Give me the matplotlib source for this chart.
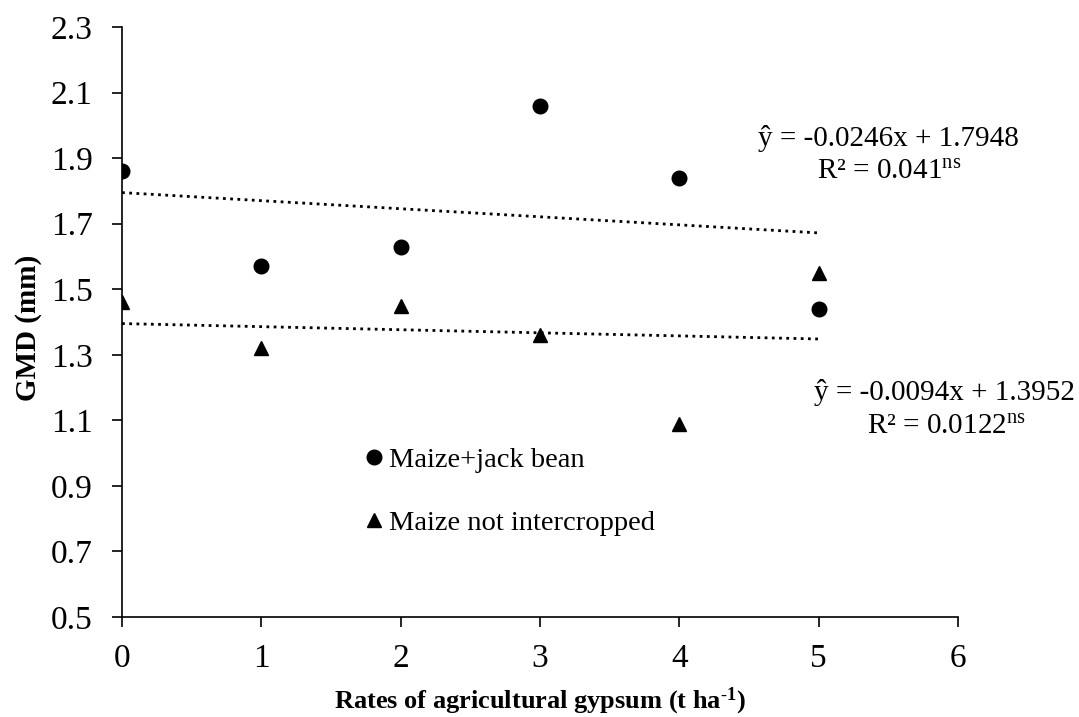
import matplotlib
matplotlib.use("Agg")
import matplotlib.pyplot as plt
import numpy as np

plt.rcParams['font.family'] = ['Liberation Serif', 'DejaVu Serif']
plt.rcParams['mathtext.fontset'] = 'custom'
plt.rcParams['mathtext.rm'] = 'Liberation Serif'
plt.rcParams['mathtext.bf'] = 'Liberation Serif:bold'
plt.rcParams['mathtext.it'] = 'Liberation Serif:italic'

rates = [0, 1, 2, 3, 4, 5]
maize_jack = [1.86, 1.57, 1.63, 2.06, 1.84, 1.44]
maize_alone = [1.46, 1.32, 1.45, 1.36, 1.09, 1.55]
fit_jack = (-0.0246, 1.7948)
fit_alone = (-0.0094, 1.3952)
eq_jack = ["ŷ = -0.0246x + 1.7948", r"R² = 0.041$^{\mathrm{ns}}$"]
eq_alone = ["ŷ = -0.0094x + 1.3952", r"R² = 0.0122$^{\mathrm{ns}}$"]
xticks = [0, 1, 2, 3, 4, 5, 6]
yticks = [0.5, 0.7, 0.9, 1.1, 1.3, 1.5, 1.7, 1.9, 2.1, 2.3]

fig = plt.figure(figsize=(10.79, 7.17), dpi=100)
ax = fig.add_axes([0.1131, 0.1395, 0.7748, 0.8228])

ax.plot(rates, maize_jack, 'o', color='black', markersize=10.5, label='Maize+jack bean', zorder=3)
ax.plot(rates, maize_alone, '^', color='black', markersize=10, label='Maize not intercropped', zorder=3)

xl = np.array([rates[0], rates[-1]])
ax.plot(xl, fit_jack[0] * xl + fit_jack[1], linestyle=(0, (1, 1.6)), color='black', linewidth=2)
ax.plot(xl, fit_alone[0] * xl + fit_alone[1], linestyle=(0, (1, 1.6)), color='black', linewidth=2)

ax.set_xlim(0, 6)
ax.set_ylim(0.5, 2.3)
ax.set_xticks(xticks)
ax.set_yticks(yticks)
ax.set_xticklabels([str(t) for t in xticks])
ax.set_yticklabels([f"{t:.1f}" for t in yticks])
ax.tick_params(axis='both', labelsize=24, direction='out', length=7.2, width=1.2, color='black')
ax.tick_params(axis='x', pad=12)
ax.tick_params(axis='y', pad=14)
for s in ['top', 'right']:
    ax.spines[s].set_visible(False)
for s in ['left', 'bottom']:
    ax.spines[s].set_linewidth(1.2)

ax.set_xlabel(r"Rates of agricultural gypsum (t ha$^{\mathbf{\text{-}1}}$)", fontsize=19, fontweight='bold')
ax.set_ylabel("GMD (mm)", fontsize=21, fontweight='bold')
ax.xaxis.set_label_coords(0.5, -0.117)
ax.yaxis.set_label_coords(-0.096, 0.49)

fig.text(0.823, 0.8075, eq_jack[0], fontsize=21, ha='center', va='center')
fig.text(0.824, 0.760, eq_jack[1], fontsize=21, ha='center', va='center')
fig.text(0.875, 0.452, eq_alone[0], fontsize=21, ha='center', va='center')
fig.text(0.877, 0.4045, eq_alone[1], fontsize=21, ha='center', va='center')

leg = ax.legend(loc='upper left', bbox_to_anchor=(0.320, 0.396), bbox_transform=fig.transFigure,
                frameon=False, fontsize=20.5, handletextpad=0.05, labelspacing=1.3,
                handlelength=1.0, borderpad=0)

fig.savefig("out.png", dpi=100)
